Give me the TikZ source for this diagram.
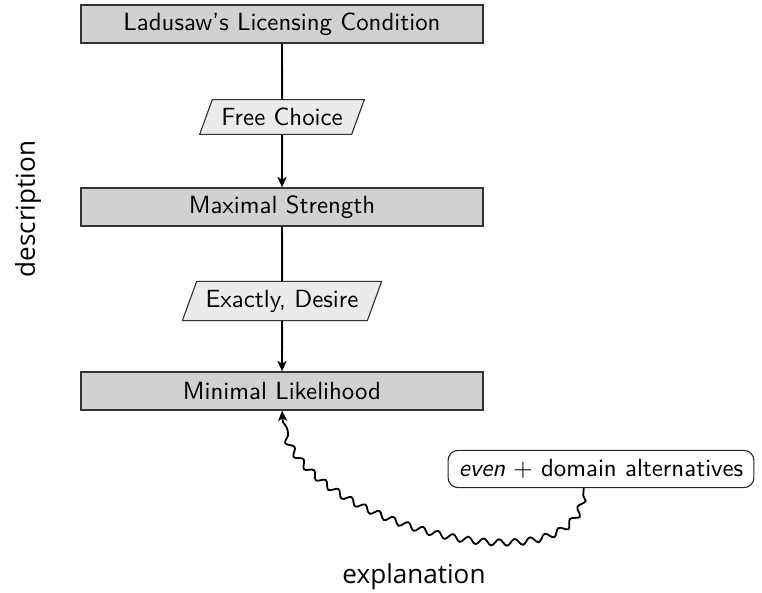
\documentclass[tikz,border=0pt]{standalone}
\usepackage{fontspec}
\newfontfamily\labelfont{Open Sans}
\usetikzlibrary{shapes.geometric,decorations.pathmorphing,arrows.meta}
\begin{document}
\begin{tikzpicture}[x=0.4023pt,y=-0.4023pt, font=\sffamily,
  mainbox/.style={draw=black!80, fill=black!18, line width=0.55pt, minimum width=161.7pt, minimum height=15.3pt, inner sep=0pt},
  condbox/.style={trapezium, trapezium left angle=70, trapezium right angle=110, draw=black!80, fill=black!8, line width=0.45pt, inner xsep=3.6pt, inner ysep=3.4pt},
  altbox/.style={draw=black!85, fill=white, rounded corners=4pt, line width=0.45pt, inner xsep=4.3pt, inner ysep=3.6pt},
  sidelabel/.style={font=\labelfont\fontsize{10.5}{12.5}\selectfont},
  conn/.style={line width=0.8pt},
  arr/.style={line width=0.8pt, -{Stealth[length=4.2pt,width=3.7pt,inset=1.2pt]}},
  wavy/.style={line width=0.72pt, -{Stealth[length=4.2pt,width=3.7pt,inset=1.2pt]}, decorate, decoration={snake, amplitude=1.3pt, segment length=6.3pt, pre length=3pt, post length=3pt}}
]
\useasboundingbox (0,0) rectangle (762,593);
\node[mainbox] (lic) at (282,24) {Ladusaw's Licensing Condition};
\node[condbox] (fc) at (282,117) {Free Choice};
\node[mainbox] (max) at (282,207) {Maximal Strength};
\node[condbox] (ed) at (282,301) {Exactly, Desire};
\node[mainbox] (min) at (282,391) {Minimal Likelihood};
\node[altbox] (even) at (601,469) {\textit{even} $+$ domain alternatives};
\node[sidelabel, rotate=90] (desc) at (28,209) {description};
\node[sidelabel] (expl) at (414,577) {explanation};
\draw[conn] (lic) -- (fc);
\draw[arr] (fc) -- (max);
\draw[conn] (max) -- (ed);
\draw[arr] (ed) -- (min);
\draw[wavy] (even.228) .. controls +(0,106) and +(0,106) .. (min.south);
\end{tikzpicture}
\end{document}
